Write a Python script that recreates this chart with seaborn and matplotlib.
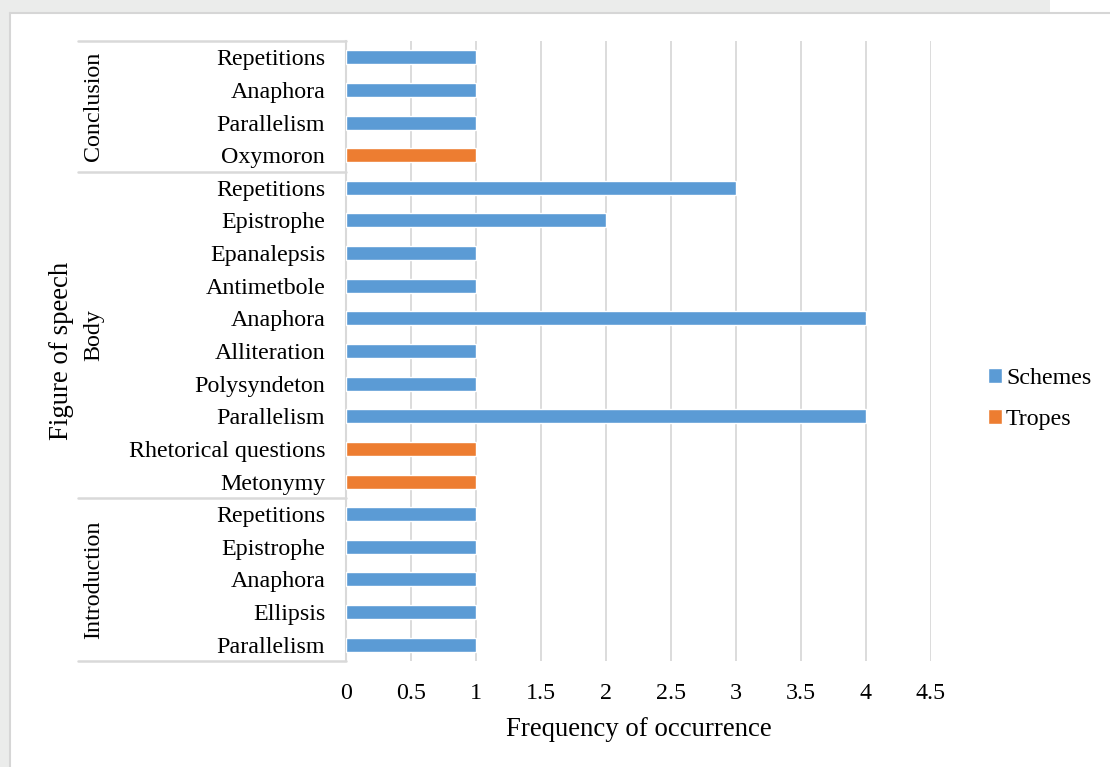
import matplotlib
matplotlib.use("Agg")
import matplotlib.pyplot as plt
import matplotlib.transforms as mtransforms
from matplotlib.patches import Rectangle
import seaborn as sns
import pandas as pd

# Figures of speech per section of the speech, top to bottom
sections = ["Conclusion"] * 4 + ["Body"] * 10 + ["Introduction"] * 5
figures = [
    "Repetitions", "Anaphora", "Parallelism", "Oxymoron",
    "Repetitions", "Epistrophe", "Epanalepsis", "Antimetbole", "Anaphora",
    "Alliteration", "Polysyndeton", "Parallelism", "Rhetorical questions", "Metonymy",
    "Repetitions", "Epistrophe", "Anaphora", "Ellipsis", "Parallelism",
]
kinds = [
    "Schemes", "Schemes", "Schemes", "Tropes",
    "Schemes", "Schemes", "Schemes", "Schemes", "Schemes",
    "Schemes", "Schemes", "Schemes", "Tropes", "Tropes",
    "Schemes", "Schemes", "Schemes", "Schemes", "Schemes",
]
counts = [1, 1, 1, 1,
          3, 2, 1, 1, 4, 1, 1, 4, 1, 1,
          1, 1, 1, 1, 1]
x_ticks = [0, 0.5, 1, 1.5, 2, 2.5, 3, 3.5, 4, 4.5]
x_tick_labels = ["0", "0.5", "1", "1.5", "2", "2.5", "3", "3.5", "4", "4.5"]
group_names = ["Conclusion", "Body", "Introduction"]

palette = {"Schemes": "#5B9BD5", "Tropes": "#ED7D31"}
grid_color = "#D9D9D9"

df = pd.DataFrame({
    "section": sections,
    "figure": figures,
    "kind": kinds,
    "count": counts,
})
df["key"] = df["section"] + " / " + df["figure"]

sns.set_theme(style="white")
plt.rcParams["font.family"] = ["Liberation Serif", "DejaVu Serif"]
plt.rcParams["text.color"] = "black"
plt.rcParams["axes.labelcolor"] = "black"
plt.rcParams["xtick.color"] = "black"
plt.rcParams["ytick.color"] = "black"

FS = 17.3      # category / tick text
FS_T = 19.3    # axis titles

W, H = 1110, 767
fig = plt.figure(figsize=(W / 100, H / 100), dpi=100)
fig.patch.set_facecolor("white")

# page margin and frame around the chart
fig.add_artist(Rectangle((0, 1 - 12 / H), 1050 / W, 12 / H, transform=fig.transFigure,
                         facecolor="#EBECEB", edgecolor="none", zorder=0))
fig.add_artist(Rectangle((0, 0), 9 / W, 1, transform=fig.transFigure,
                         facecolor="#EBECEB", edgecolor="none", zorder=0))
fig.add_artist(plt.Line2D([9.5 / W, 1], [1 - 12.5 / H, 1 - 12.5 / H], transform=fig.transFigure,
                          color="#D6D6D6", lw=1.5, zorder=1))
fig.add_artist(plt.Line2D([9.5 / W, 9.5 / W], [0, 1 - 12.5 / H], transform=fig.transFigure,
                          color="#D6D6D6", lw=1.5, zorder=1))

x0, x1 = 346 / W, 931 / W
y_top, y_bot = 1 - 41 / H, 1 - 661 / H
ax = fig.add_axes([x0, y_bot, x1 - x0, y_top - y_bot])

sns.barplot(data=df, y="key", x="count", hue="kind", order=list(df["key"]),
            hue_order=["Schemes", "Tropes"], palette=palette, dodge=False,
            width=0.43, orient="h", saturation=1, ax=ax, zorder=3)

ax.set_xlim(0, 4.5)
ax.set_ylim(len(figures) - 0.5, -0.5)
ax.set_xticks(x_ticks)
ax.set_xticklabels(x_tick_labels, fontsize=FS)
ax.set_yticks(range(len(figures)))
ax.set_yticklabels(figures, fontsize=FS)
ax.tick_params(axis="y", length=0, pad=15)
ax.tick_params(axis="x", length=0, pad=16)

for xv in x_ticks[1:]:
    ax.axvline(xv, color=grid_color, lw=1.3, zorder=1)
for side in ["top", "right", "bottom"]:
    ax.spines[side].set_visible(False)
ax.spines["left"].set_color(grid_color)
ax.spines["left"].set_linewidth(1.5)

ax.set_xlabel("Frequency of occurrence", fontsize=FS_T, labelpad=9)
ax.set_ylabel("")

# multi-level category axis: section separators and section names
blend = mtransforms.blended_transform_factory(fig.transFigure, ax.transData)
bounds = [-0.5, 3.5, 13.5, len(figures) - 0.5]
for b in bounds:
    ax.plot([78 / W, x0], [b, b], transform=blend, color=grid_color, lw=1.8,
            clip_on=False, zorder=2)
for name, lo, hi in zip(group_names, bounds[:-1], bounds[1:]):
    ax.text(94 / W, (lo + hi) / 2, name, transform=blend, rotation=90,
            ha="center", va="center", fontsize=FS)

fig.text(62 / W, (y_top + y_bot) / 2, "Figure of speech", rotation=90,
         ha="center", va="center", fontsize=FS_T)

sns.move_legend(ax, "center left", bbox_to_anchor=(976 / W, 1 - 399 / H),
                bbox_transform=fig.transFigure, title=None, frameon=False,
                fontsize=FS, handlelength=0.6, handleheight=0.6,
                handletextpad=0.15, labelspacing=0.85, borderpad=0)

fig.savefig("out.png", dpi=100)
